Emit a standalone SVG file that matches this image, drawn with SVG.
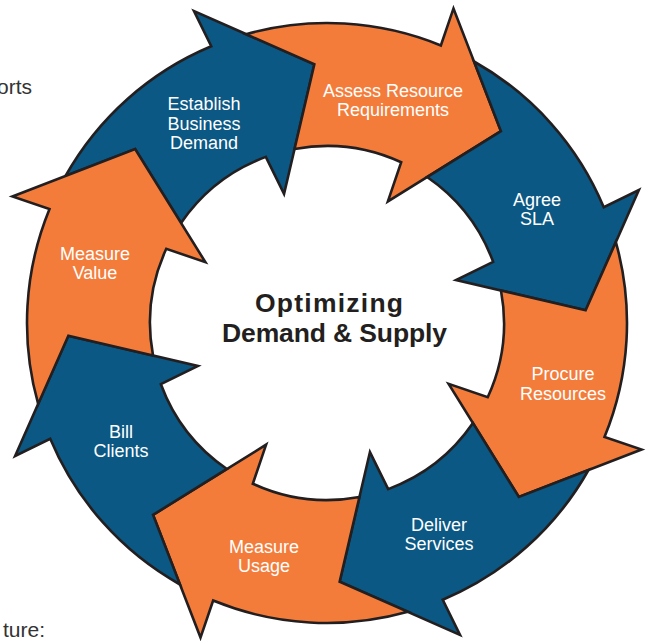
<svg xmlns="http://www.w3.org/2000/svg" xmlns:xlink="http://www.w3.org/1999/xlink" width="648" height="641" viewBox="0 0 648 641">
<style>
.seg{stroke:#231f20;stroke-width:2.6;stroke-linejoin:miter;stroke-miterlimit:10}
.blue{fill:#0a5883}
.orange{fill:#f47c3a}
.lbl{font-family:"Liberation Sans",Arial,Helvetica,sans-serif;font-size:18px;fill:#ffffff;text-anchor:middle}
.title{font-family:"Liberation Sans",Arial,Helvetica,sans-serif;font-size:26.5px;font-weight:bold;fill:#231f20}
.page{font-family:"Liberation Sans",Arial,Helvetica,sans-serif;font-size:21px;fill:#333333;text-anchor:end}
</style>
<defs>
<path id="arrow" d="M -254.0 -159.6 A 300 300 0 0 1 -102.1 -282.1 L -117.6 -318.0 L 0 -259 L -36.6 -131.0 L -53.0 -168.9 A 177 177 0 0 0 -140.9 -107.1 L -183.1 -183.1 Z"/>
</defs>
<rect width="648" height="641" fill="#ffffff"/>
<text class="page" x="32" y="94">orts</text>
<text class="page" x="45" y="637">ture:</text>
<g id="connectors"></g>
<g id="establish">
<use xlink:href="#arrow" class="seg blue" transform="translate(327 323) rotate(-2.8)"/>
<text class="lbl"><tspan x="204" y="110">Establish</tspan><tspan x="204" y="129.5">Business</tspan><tspan x="204" y="149">Demand</tspan></text>
</g>
<g id="assess">
<use xlink:href="#arrow" class="seg orange" transform="translate(327 323) rotate(42.2)"/>
<text class="lbl"><tspan x="393" y="97">Assess Resource</tspan><tspan x="393" y="116">Requirements</tspan></text>
</g>
<g id="agree">
<use xlink:href="#arrow" class="seg blue" transform="translate(327 323) rotate(87.2)"/>
<text class="lbl"><tspan x="537" y="206">Agree</tspan><tspan x="537" y="224.5">SLA</tspan></text>
</g>
<g id="procure">
<use xlink:href="#arrow" class="seg orange" transform="translate(327 323) rotate(132.2)"/>
<text class="lbl"><tspan x="563" y="380">Procure</tspan><tspan x="563" y="399.5">Resources</tspan></text>
</g>
<g id="deliver">
<use xlink:href="#arrow" class="seg blue" transform="translate(327 323) rotate(177.2)"/>
<text class="lbl"><tspan x="439" y="530.5">Deliver</tspan><tspan x="439" y="549.5">Services</tspan></text>
</g>
<g id="measure-usage">
<use xlink:href="#arrow" class="seg orange" transform="translate(327 323) rotate(222.2)"/>
<text class="lbl"><tspan x="264" y="552.5">Measure</tspan><tspan x="264" y="572">Usage</tspan></text>
</g>
<g id="bill">
<use xlink:href="#arrow" class="seg blue" transform="translate(327 323) rotate(267.2)"/>
<text class="lbl"><tspan x="121" y="437.5">Bill</tspan><tspan x="121" y="456.5">Clients</tspan></text>
</g>
<g id="measure-value">
<use xlink:href="#arrow" class="seg orange" transform="translate(327 323) rotate(312.2)"/>
<text class="lbl"><tspan x="95" y="260">Measure</tspan><tspan x="95" y="278.5">Value</tspan></text>
</g>
<g id="center">
<text class="title" x="255" y="312" textLength="148" lengthAdjust="spacing">Optimizing</text>
<text class="title" x="222" y="342" textLength="225" lengthAdjust="spacing">Demand &amp; Supply</text>
</g>
</svg>
